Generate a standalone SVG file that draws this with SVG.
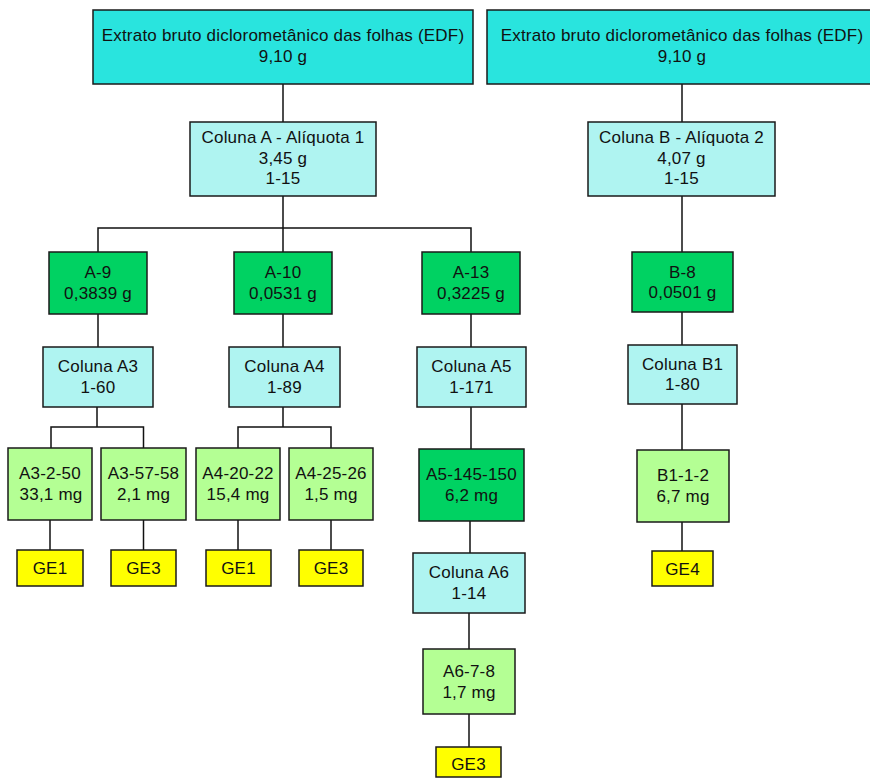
<svg xmlns="http://www.w3.org/2000/svg" width="870" height="778" viewBox="0 0 870 778">
  <style>
    .box rect { stroke: #1a1a1a; stroke-width: 1.5; }
    .extract rect { fill: #29e4de; }
    .column rect { fill: #aff4f1; }
    .fraction rect { fill: #00d262; }
    .sub rect { fill: #b4ff94; }
    .ge rect { fill: #ffff00; }
    .box text { font-family: "Liberation Sans", Arial, sans-serif; font-size: 17px; letter-spacing: 0.2px; fill: #111; text-anchor: middle; }
    #connectors path { fill: none; stroke: #111; stroke-width: 1.5; }
  </style>
  <rect width="870" height="778" fill="#ffffff"/>

  <!-- connectors -->
  <g id="connectors">
    <path d="M283 84 V122"/>
    <path d="M283 196 V252 M283 228 H98 V252 M283 228 H471 V252"/>
    <path d="M98 314 V347"/>
    <path d="M283 314 V347"/>
    <path d="M471 314 V347"/>
    <path d="M97 407 V427 M51 448 V427 H143.5 V448"/>
    <path d="M283 407 V427 M238 448 V427 H331 V448"/>
    <path d="M50 520 V550"/>
    <path d="M143.5 520 V550"/>
    <path d="M238 520 V550"/>
    <path d="M331 520 V550"/>
    <path d="M471 407 V449"/>
    <path d="M470 521 V553"/>
    <path d="M469 613 V649"/>
    <path d="M469 714 V747"/>
    <path d="M682 84 V122"/>
    <path d="M682 196 V252"/>
    <path d="M682 312 V345"/>
    <path d="M682 404 V450"/>
    <path d="M682 522 V551"/>
  </g>

  <!-- crude extracts -->
  <g id="edf-a" class="box extract">
    <rect x="93" y="10" width="380" height="74"/>
    <text x="283" y="41">Extrato bruto diclorometânico das folhas (EDF)</text>
    <text x="283" y="62">9,10 g</text>
  </g>
  <g id="edf-b" class="box extract">
    <rect x="487" y="10" width="392" height="74"/>
    <text x="682" y="41">Extrato bruto diclorometânico das folhas (EDF)</text>
    <text x="682" y="62">9,10 g</text>
  </g>

  <!-- first columns -->
  <g id="coluna-a" class="box column">
    <rect x="190" y="122" width="186" height="74"/>
    <text x="283" y="143">Coluna A - Alíquota 1</text>
    <text x="283" y="164">3,45 g</text>
    <text x="283" y="184">1-15</text>
  </g>
  <g id="coluna-b" class="box column">
    <rect x="588" y="122" width="187" height="74"/>
    <text x="681.5" y="143">Coluna B - Alíquota 2</text>
    <text x="681.5" y="164">4,07 g</text>
    <text x="681.5" y="184">1-15</text>
  </g>

  <!-- fractions -->
  <g id="a-9" class="box fraction">
    <rect x="49" y="252" width="98" height="62"/>
    <text x="98" y="278">A-9</text>
    <text x="98" y="299">0,3839 g</text>
  </g>
  <g id="a-10" class="box fraction">
    <rect x="234" y="252" width="98" height="62"/>
    <text x="283" y="278">A-10</text>
    <text x="283" y="299">0,0531 g</text>
  </g>
  <g id="a-13" class="box fraction">
    <rect x="422" y="252" width="98" height="62"/>
    <text x="471" y="278">A-13</text>
    <text x="471" y="299">0,3225 g</text>
  </g>
  <g id="b-8" class="box fraction">
    <rect x="632" y="252" width="101" height="60"/>
    <text x="682.5" y="278">B-8</text>
    <text x="682.5" y="298">0,0501 g</text>
  </g>

  <!-- second columns -->
  <g id="coluna-a3" class="box column">
    <rect x="43" y="347" width="110" height="60"/>
    <text x="98" y="372">Coluna A3</text>
    <text x="98" y="393">1-60</text>
  </g>
  <g id="coluna-a4" class="box column">
    <rect x="229" y="347" width="111" height="60"/>
    <text x="284.5" y="372">Coluna A4</text>
    <text x="284.5" y="393">1-89</text>
  </g>
  <g id="coluna-a5" class="box column">
    <rect x="417" y="347" width="109" height="60"/>
    <text x="471.5" y="372">Coluna A5</text>
    <text x="471.5" y="393">1-171</text>
  </g>
  <g id="coluna-b1" class="box column">
    <rect x="628" y="345" width="109" height="59"/>
    <text x="682.5" y="370">Coluna B1</text>
    <text x="682.5" y="390">1-80</text>
  </g>

  <!-- sub-fractions -->
  <g id="a3-2-50" class="box sub">
    <rect x="8" y="448" width="84" height="72"/>
    <text x="50" y="479">A3-2-50</text>
    <text x="51" y="500">33,1 mg</text>
  </g>
  <g id="a3-57-58" class="box sub">
    <rect x="101" y="448" width="85" height="72"/>
    <text x="143.5" y="479">A3-57-58</text>
    <text x="143.5" y="500">2,1 mg</text>
  </g>
  <g id="a4-20-22" class="box sub">
    <rect x="196" y="448" width="84" height="72"/>
    <text x="238" y="479">A4-20-22</text>
    <text x="238" y="500">15,4 mg</text>
  </g>
  <g id="a4-25-26" class="box sub">
    <rect x="289" y="448" width="84" height="72"/>
    <text x="331" y="479">A4-25-26</text>
    <text x="331" y="500">1,5 mg</text>
  </g>
  <g id="a5-145-150" class="box fraction">
    <rect x="419" y="449" width="105" height="72"/>
    <text x="471.5" y="480">A5-145-150</text>
    <text x="471.5" y="501">6,2 mg</text>
  </g>
  <g id="b1-1-2" class="box sub">
    <rect x="637" y="450" width="92" height="72"/>
    <text x="683" y="481">B1-1-2</text>
    <text x="683" y="502">6,7 mg</text>
  </g>

  <!-- GE groups -->
  <g id="ge1-a3" class="box ge">
    <rect x="17" y="550" width="66" height="36"/>
    <text x="50" y="574">GE1</text>
  </g>
  <g id="ge3-a3" class="box ge">
    <rect x="111" y="550" width="65" height="36"/>
    <text x="143.5" y="574">GE3</text>
  </g>
  <g id="ge1-a4" class="box ge">
    <rect x="206" y="550" width="65" height="36"/>
    <text x="238.5" y="574">GE1</text>
  </g>
  <g id="ge3-a4" class="box ge">
    <rect x="299" y="550" width="64" height="36"/>
    <text x="331" y="574">GE3</text>
  </g>
  <g id="ge4" class="box ge">
    <rect x="652" y="551" width="61" height="35"/>
    <text x="682.5" y="575">GE4</text>
  </g>

  <!-- A5 branch continued -->
  <g id="coluna-a6" class="box column">
    <rect x="413" y="553" width="112" height="60"/>
    <text x="469" y="578">Coluna A6</text>
    <text x="469" y="599">1-14</text>
  </g>
  <g id="a6-7-8" class="box sub">
    <rect x="423" y="649" width="92" height="65"/>
    <text x="469" y="677">A6-7-8</text>
    <text x="469" y="698">1,7 mg</text>
  </g>
  <g id="ge3-a6" class="box ge">
    <rect x="436" y="747" width="65" height="30"/>
    <text x="468.5" y="770">GE3</text>
  </g>
</svg>
